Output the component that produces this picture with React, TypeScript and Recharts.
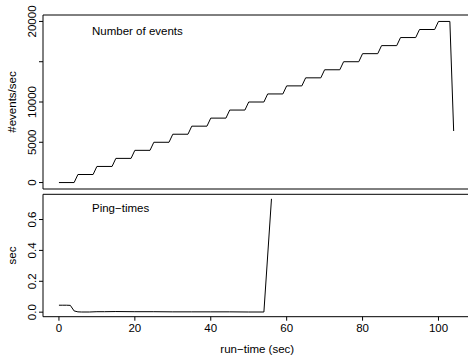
import React from 'react';
import { LineChart, Line, XAxis, YAxis, ReferenceLine } from 'recharts';

const FONT = '"Liberation Sans", Arial, Helvetica, sans-serif';

// events/sec staircase (breakpoints)
const eventTimes = [0, 4, 5, 9, 10, 14, 15, 19, 20, 24, 25, 29, 30, 34, 35, 39, 40, 44, 45, 49, 50, 54, 55, 59, 60, 64, 65, 69, 70, 74, 75, 79, 80, 84, 85, 89, 90, 94, 95, 99, 100, 103, 104];
const eventRates = [0, 0, 1000, 1000, 2000, 2000, 3000, 3000, 4000, 4000, 5000, 5000, 6000, 6000, 7000, 7000, 8000, 8000, 9000, 9000, 10000, 10000, 11000, 11000, 12000, 12000, 13000, 13000, 14000, 14000, 15000, 15000, 16000, 16000, 17000, 17000, 18000, 18000, 19000, 19000, 20000, 20000, 6400];

// ping times in seconds
const pingTimes = [0, 1, 2, 3, 4, 5, 6, 8, 10, 12, 15, 20, 25, 30, 35, 40, 45, 50, 54, 56];
const pingValues = [0.045, 0.045, 0.045, 0.044, 0.008, 0.002, 0.001, 0.001, 0.003, 0.003, 0.004, 0.003, 0.003, 0.002, 0.002, 0.002, 0.002, 0.001, 0.001, 0.734];

const timeTicks = [0, 20, 40, 60, 80, 100];
const eventTicks = [0, 5000, 10000, 15000, 20000];
const pingTicks = [0, 0.2, 0.4, 0.6];

const X_DOMAIN: [number, number] = [-4.2, 108.7];
const EVENT_DOMAIN: [number, number] = [-800, 20800];
const PING_DOMAIN: [number, number] = [-0.0294, 0.7634];

const eventData = eventTimes.map((t, i) => ({ t, v: eventRates[i] }));
const pingData = pingTimes.map((t, i) => ({ t, v: pingValues[i] }));

// rotated tick labels like R's default axis style
const RotTick = (props: any) => {
  const { x, y, payload, fmt } = props;
  const label = fmt(payload.value);
  if (!label) return null;
  return (
    <text x={x} y={y} transform={`rotate(-90 ${x} ${y})`} textAnchor="middle"
      fontSize={11.5} fontFamily={FONT} fill="#000">
      {label}
    </text>
  );
};

const eventFmt = (v: number) => (v === 15000 ? '' : String(v));
const pingFmt = (v: number) => v.toFixed(1);

export default function App() {
  return (
    <div style={{ position: 'absolute', left: 0, top: 0, width: 468, height: 356, overflow: 'hidden', background: '#fff' }}>
      <div style={{ position: 'absolute', left: 0, top: 0 }}>
        <LineChart width={480} height={190} data={eventData} margin={{ top: 15, right: 8.5, bottom: 1, left: 0 }}>
          <XAxis dataKey="t" type="number" domain={X_DOMAIN} allowDataOverflow hide />
          <YAxis type="number" domain={EVENT_DOMAIN} allowDataOverflow width={43} ticks={eventTicks} interval={0}
            tickSize={4} tickMargin={3} stroke="#000" tickLine={{ stroke: '#000' }}
            tick={<RotTick fmt={eventFmt} />}
            label={{ value: '#events/sec', angle: -90, position: 'center', dx: -9.5, fontSize: 11.5, fontFamily: FONT, fill: '#000' }} />
          <ReferenceLine y={EVENT_DOMAIN[1]} stroke="#000" />
          <ReferenceLine y={EVENT_DOMAIN[0]} stroke="#000" />
          <Line type="linear" dataKey="v" stroke="#000" strokeWidth={1} dot={false} isAnimationActive={false} />
        </LineChart>
      </div>
      <div style={{ position: 'absolute', left: 0, top: 190 }}>
        <LineChart width={480} height={166} data={pingData} margin={{ top: 4.3, right: 8.5, bottom: 0, left: 0 }}>
          <XAxis dataKey="t" type="number" domain={X_DOMAIN} allowDataOverflow ticks={timeTicks} interval={0}
            height={39.3} tickSize={4} tickMargin={3} stroke="#000" tickLine={{ stroke: '#000' }}
            tick={{ fontSize: 11.5, fontFamily: FONT, fill: '#000' }}
            label={{ value: 'run\u2212time (sec)', position: 'insideBottom', offset: 3, fontSize: 11.5, fontFamily: FONT, fill: '#000' }} />
          <YAxis type="number" domain={PING_DOMAIN} allowDataOverflow width={43} ticks={pingTicks} interval={0}
            tickSize={4} tickMargin={3} stroke="#000" tickLine={{ stroke: '#000' }}
            tick={<RotTick fmt={pingFmt} />}
            label={{ value: 'sec', angle: -90, position: 'center', dx: -9.5, fontSize: 11.5, fontFamily: FONT, fill: '#000' }} />
          <ReferenceLine y={PING_DOMAIN[1]} stroke="#000" />
          <Line type="linear" dataKey="v" stroke="#000" strokeWidth={1} dot={false} isAnimationActive={false} />
        </LineChart>
      </div>
      <div style={{ position: 'absolute', left: 92, top: 25, fontSize: 11.5, fontFamily: FONT, lineHeight: '13px', color: '#000', whiteSpace: 'nowrap' }}>
        Number of events
      </div>
      <div style={{ position: 'absolute', left: 92, top: 202, fontSize: 11.5, fontFamily: FONT, lineHeight: '13px', color: '#000', whiteSpace: 'nowrap' }}>
        Ping{'\u2212'}times
      </div>
    </div>
  );
}
